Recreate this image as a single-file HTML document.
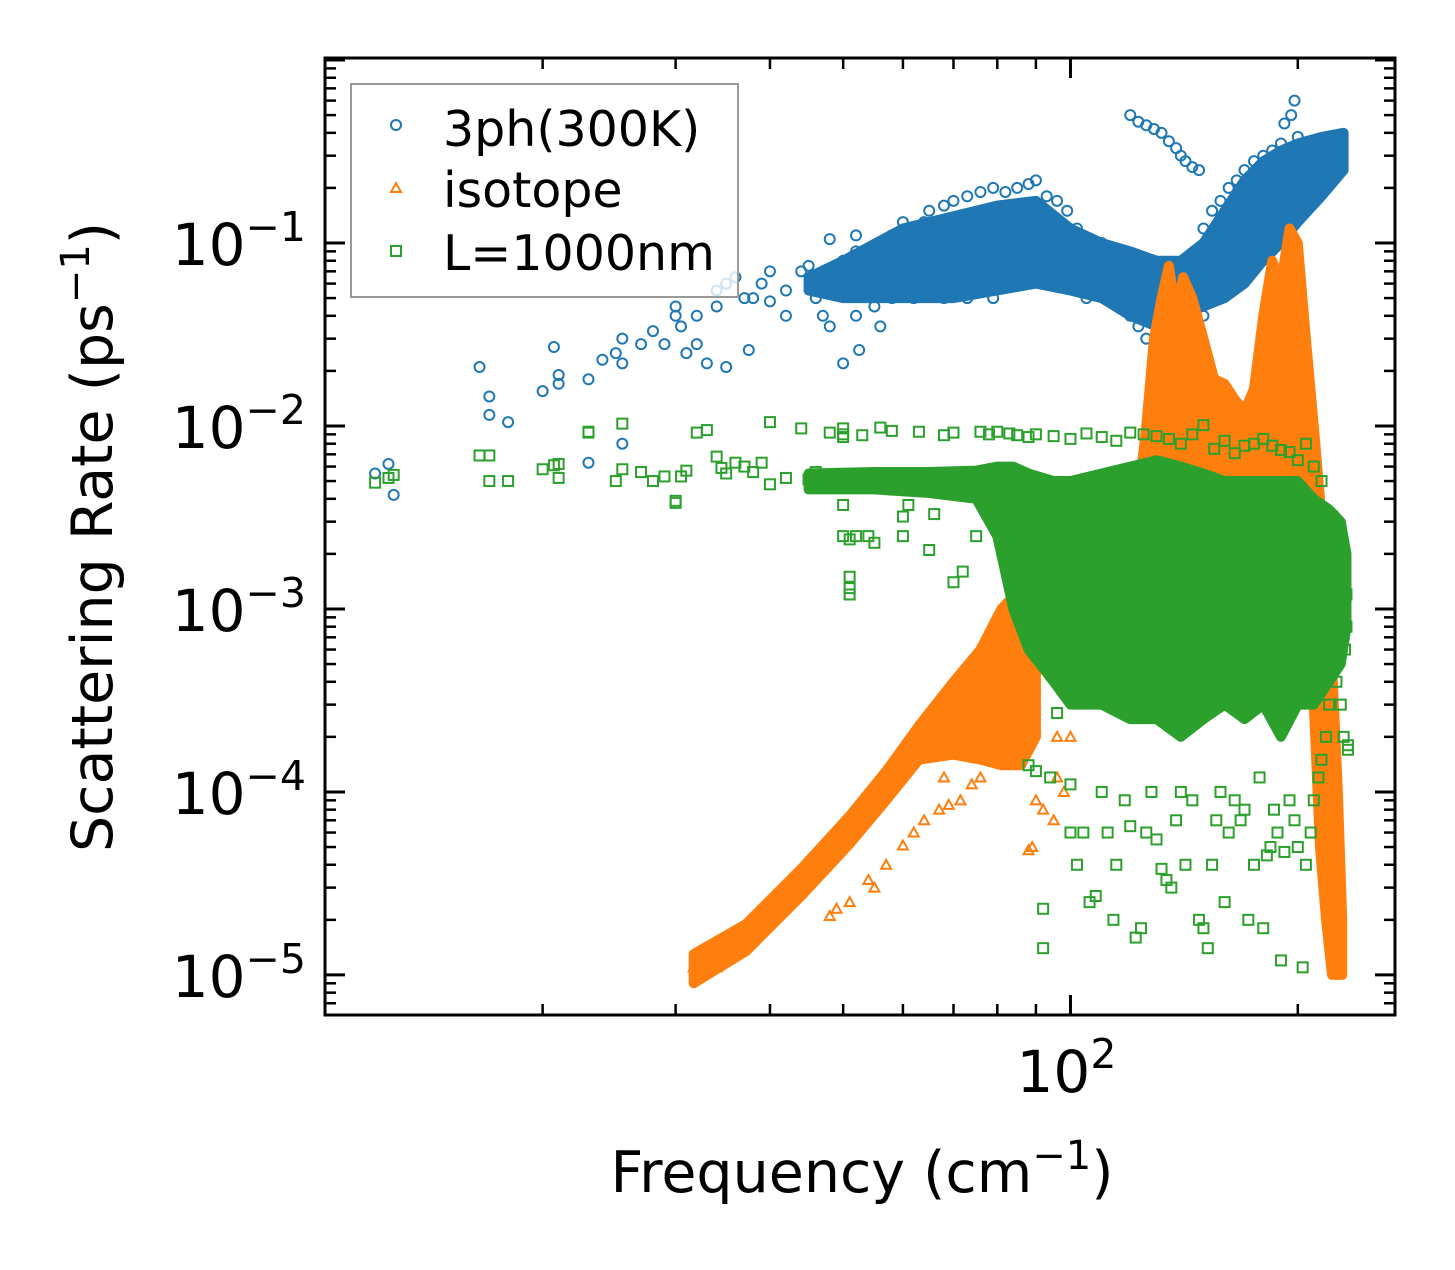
<!DOCTYPE html>
<html><head><meta charset="utf-8"><style>
html,body{margin:0;padding:0;background:#fff}
svg text{font-family:"DejaVu Sans","Liberation Sans",sans-serif;fill:#000}
</style></head><body>
<svg id="chart" width="1455" height="1265" viewBox="0 0 1455 1265" xmlns="http://www.w3.org/2000/svg">
<rect x="0" y="0" width="1455" height="1265" fill="#fff"/>
<g id="env"></g>
<g id="pts"></g>
<g id="axes"></g>
<g>
<rect x="351" y="84" width="387" height="213" fill="#fff" fill-opacity="0.8" stroke="#999" stroke-width="2"/>
<circle cx="396" cy="125" r="5" fill="none" stroke="#1f77b4" stroke-width="2"/>
<text x="443" y="146" font-size="49">3ph(300K)</text>
<polygon points="396,183 401,192 391,192" fill="none" stroke="#ff7f0e" stroke-width="2"/>
<text x="443" y="207" font-size="49">isotope</text>
<rect x="391" y="246" width="10" height="10" fill="none" stroke="#2ca02c" stroke-width="2"/>
<text x="443" y="270" font-size="49">L=1000nm</text>
</g>
<text x="862" y="1192" font-size="57" text-anchor="middle">Frequency (cm<tspan dy="-23" font-size="40">−1</tspan><tspan dy="23">)</tspan></text>
<text transform="translate(112,537) rotate(-90)" font-size="57" text-anchor="middle">Scattering Rate (ps<tspan dy="-23" font-size="40">−1</tspan><tspan dy="23">)</tspan></text>
</svg>
<script>
// axis config
const xMin=10.3, xMax=269, yMin=Math.pow(10,-5.219), yMax=Math.pow(10,0.011);
const L=325,R=1395,T=58,B=1015;
function X(f){return L+(Math.log10(f)-Math.log10(xMin))/(Math.log10(xMax)-Math.log10(xMin))*(R-L);}
function Y(r){return B-(Math.log10(r)-Math.log10(yMin))/(Math.log10(yMax)-Math.log10(yMin))*(B-T);}

const yTickExp=[-1,-2,-3,-4,-5];
const yTickLabels=["−1","−2","−3","−4","−5"];
const xTickVals=[100];
const xTickLabels=["2"];

// density envelopes (frequency, lower, upper)
const blueEnvF=[45,50,60,70,80,90,100,110,120,130,140,150,160,170,180,190,200,215,230];
const blueEnvLo=[0.055,0.05,0.05,0.05,0.055,0.06,0.055,0.05,0.04,0.035,0.04,0.045,0.05,0.06,0.08,0.1,0.13,0.18,0.25];
const blueEnvHi=[0.065,0.08,0.12,0.14,0.16,0.17,0.12,0.1,0.09,0.08,0.08,0.1,0.15,0.22,0.28,0.32,0.35,0.38,0.4];
const orangeEnvF=[122,126,129,132,135,138,141,145,150,155,160,165,170,175,180,185,190,195,200,205,210,214,218,222,226,229];
const orangeEnvLo=[0.003,0.002,0.002,0.002,0.002,0.002,0.002,0.003,0.003,0.003,0.003,0.003,0.003,0.003,0.003,0.003,0.003,0.003,0.003,0.002,0.0003,0.00005,0.00002,0.00001,0.00001,0.00001];
const orangeEnvHi=[0.003,0.01,0.03,0.05,0.075,0.04,0.065,0.05,0.03,0.018,0.017,0.014,0.012,0.016,0.04,0.08,0.06,0.12,0.1,0.03,0.01,0.004,0.0015,0.0005,0.0001,0.00002];
const orangeLowEnvF=[31.7,37.2,44,51,57,63,70,76,81,86,90];
const orangeLowEnvLo=[0.000009,0.0000135,0.000027,0.000052,0.00009,0.00015,0.00016,0.00015,0.00014,0.00014,0.0002];
const orangeLowEnvHi=[0.000013,0.000019,0.000038,0.000074,0.00013,0.00023,0.0004,0.0006,0.001,0.0013,0.0015];
const greenEnvF=[45,55,65,75,80,84,88,95,100,110,120,130,140,150,160,170,180,190,200,210,220,228,232];
const greenEnvLo=[0.0045,0.0045,0.0043,0.004,0.0025,0.001,0.0006,0.0004,0.0003,0.0003,0.00025,0.00025,0.0002,0.00025,0.0003,0.00025,0.0003,0.0002,0.0003,0.0003,0.0004,0.0005,0.0008];
const greenEnvHi=[0.0055,0.0056,0.0056,0.0057,0.006,0.006,0.0055,0.005,0.005,0.0055,0.006,0.0065,0.006,0.0055,0.005,0.005,0.005,0.005,0.005,0.004,0.0035,0.003,0.002];

// scatter points: flat [freq, rate, freq, rate, ...]
const bluePts=[12,0.0055,12.5,0.0062,12.7,0.0042,16.5,0.021,17,0.0145,17,0.0115,18,0.0105,20,0.0155,20.7,0.027,21,0.019,21,0.017,23,0.018,23,0.0063,24,0.023,25,0.025,25.5,0.03,25.5,0.022,25.5,0.008,27,0.028,28,0.033,29,0.028,30,0.04,30,0.045,30.5,0.035,31,0.025,32,0.04,32,0.028,33,0.022,34,0.055,34,0.045,35,0.021,35,0.06,36,0.065,37,0.05,37.5,0.026,38,0.05,39,0.06,40,0.07,40,0.048,42,0.055,42,0.04,44,0.07,45,0.075,46,0.05,47,0.04,48,0.105,48,0.035,50,0.06,50,0.08,50,0.022,52,0.11,52,0.09,52,0.04,52.5,0.026,54,0.08,55,0.045,56,0.035,57,0.09,58,0.11,60,0.11,62,0.12,64,0.13,66,0.1,70,0.12,
58,0.05,60,0.13,62,0.05,65,0.15,68,0.05,68,0.16,70,0.17,73,0.05,73,0.18,76,0.19,79,0.05,79,0.2,82,0.19,85,0.2,88,0.21,90,0.22,93,0.18,96,0.17,99,0.15,102,0.12,105,0.05,108,0.1,111,0.05,114,0.05,117,0.045,120,0.04,123,0.035,126,0.03,130,0.04,134,0.035,138,0.04,142,0.04,146,0.045,150,0.04,150,0.12,154,0.15,158,0.17,162,0.2,166,0.22,170,0.25,175,0.28,180,0.3,185,0.32,190,0.35,200,0.38,215,0.36,225,0.38,
120,0.5,123,0.46,126,0.44,129,0.42,132,0.4,135,0.36,138,0.33,140,0.3,142,0.28,145,0.26,148,0.25,198,0.6,196,0.5,192,0.45,165,0.09,170,0.1,175,0.12,110,0.1,112,0.095];
const orangePts=[31.7,0.000011,33,0.000012,34,0.000011,36,0.000016,39,0.000022,41,0.000028,48,0.000021,49,0.000023,51,0.000025,54,0.000033,55,0.00003,57,0.00004,60,0.000051,62,0.00006,64,0.00007,67,0.00008,69,0.000085,71.5,0.00009,68,0.00012,74,0.00011,76,0.00012,52,0.00008,55,0.0001,58,0.00014,61,0.00019,64,0.00025,67,0.0003,70,0.00038,73,0.00048,76,0.0006,79,0.00075,83,0.0009,86,0.00048,88,0.000048,89,0.00005,87,0.00032,90,0.00009,92,0.00008,95,0.00007,96,0.00012,98,0.0001,96,0.0002,100,0.0002,97,0.0004,100,0.0006,
120,0.004,124,0.006,128,0.0015,131,0.001,135,0.001,140,0.0012,145,0.0015,150,0.002,155,0.0015,165,0.002,175,0.002,185,0.002,195,0.002,205,0.001,110,0.0005,115,0.0008,110,0.005,105,0.004];
const greenPts=[12,0.0049,12.5,0.0052,12.7,0.0054,16.5,0.0069,17,0.0069,17,0.005,18,0.005,20,0.0058,20.7,0.0061,21,0.0062,21,0.0052,23,0.0092,23,0.0093,25,0.005,25.5,0.0058,25.5,0.0103,27,0.0056,28,0.005,29,0.0053,30,0.0038,30,0.0039,30.5,0.0053,31,0.0057,32,0.0092,33,0.0095,34,0.0068,34.5,0.0059,35,0.0055,36,0.0063,37,0.006,38,0.0056,39,0.0063,40,0.0105,40,0.0048,42,0.0052,44,0.0097,45,0.0051,46,0.0056,48,0.0092,50,0.0097,50,0.009,50,0.0087,50,0.0037,50,0.0025,51,0.0024,51,0.0015,51,0.0013,51,0.0012,52,0.0025,53,0.0089,54,0.0025,55,0.0023,56,0.0098,58,0.0094,60,0.0032,60,0.0025,61,0.0037,63,0.0093,65,0.0021,66,0.0033,68,0.0089,70,0.0092,70,0.0014,72,0.0016,75,0.0025,76,0.0093,78,0.009,80,0.0093,83,0.0091,85,0.0089,88,0.0087,90,0.009,95,0.0088,100,0.0085,105,0.0091,110,0.0087,115,0.0083,120,0.0092,125,0.009,130,0.0088,135,0.0085,140,0.008,145,0.009,150,0.0101,155,0.0075,160,0.0083,165,0.0071,170,0.0078,175,0.008,180,0.0085,185,0.0078,190,0.0074,195,0.0072,200,0.0065,205,0.008,210,0.006,215,0.005,222,0.0032,226,0.0025,230,0.0018,232,0.0012,232,0.0008,231,0.0006,233,0.00017,233,0.00018,
88,0.00014,90,0.00013,92,0.000023,92,0.000014,94,0.00012,96,0.00027,100,0.00011,100,0.00006,102,0.00004,104,0.00006,106,0.000025,108,0.000027,110,0.0001,112,0.00006,114,0.00002,115,0.00004,118,0.00009,120,0.000065,122,0.000016,124,0.000018,126,0.00006,128,0.0001,130,0.000055,132,0.000038,134,0.000033,136,0.00003,138,0.00007,140,0.0001,142,0.00004,145,0.00009,148,0.00002,150,0.000018,152,0.000014,154,0.00004,156,0.00007,158,0.0001,160,0.000025,162,0.00006,165,0.00009,168,0.00007,170,0.00008,172,0.00002,175,0.00004,178,0.00012,180,0.000018,182,0.000045,184,0.00005,186,0.00008,188,0.00006,190,0.000012,192,0.000047,195,0.00009,198,0.00007,200,0.00005,203,0.000011,205,0.00004,208,0.00006,210,0.00009,213,0.00012,215,0.00015,218,0.0002,220,0.0003,225,0.0004,228,0.0003,230,0.0002];

const svgNS="http://www.w3.org/2000/svg";
const env=document.getElementById('env');
const pts=document.getElementById('pts');
const axes=document.getElementById('axes');

function envPath(fs,lo,hi){
  let d="M"+X(fs[0])+","+Y(hi[0]);
  for(let i=1;i<fs.length;i++) d+=" L"+X(fs[i])+","+Y(hi[i]);
  for(let i=fs.length-1;i>=0;i--) d+=" L"+X(fs[i])+","+Y(lo[i]);
  return d+"Z";
}
function envelope(fs,lo,hi,color,name,parent){
  const p=document.createElementNS(svgNS,'path');
  p.setAttribute('d',envPath(fs,lo,hi));p.setAttribute('fill',color);p.setAttribute('stroke',color);p.setAttribute('stroke-width','10');p.setAttribute('stroke-linejoin','round');
  
  
  parent.appendChild(p);
}
function marker(kind,f,r,color,parent){
  const x=X(f),y=Y(r);let el;
  if(kind==='c'){el=document.createElementNS(svgNS,'circle');el.setAttribute('cx',x);el.setAttribute('cy',y);el.setAttribute('r',5);}
  else if(kind==='t'){el=document.createElementNS(svgNS,'polygon');el.setAttribute('points',x+","+(y-5)+" "+(x+5)+","+(y+4)+" "+(x-5)+","+(y+4));}
  else {el=document.createElementNS(svgNS,'rect');el.setAttribute('x',x-5);el.setAttribute('y',y-5);el.setAttribute('width',10);el.setAttribute('height',10);}
  el.setAttribute('fill','none');el.setAttribute('stroke',color);el.setAttribute('stroke-width','2');
  
  
  parent.appendChild(el);
}
function series(arr,kind,color,name){
  const g=document.createElementNS(svgNS,'g');
  
  
  for(let i=0;i<arr.length;i+=2) marker(kind,arr[i],arr[i+1],color,g);
  pts.appendChild(g);
}
envelope(blueEnvF,blueEnvLo,blueEnvHi,'#1f77b4','envelope-3ph',pts);
series(bluePts,'c','#1f77b4','series-3ph');
envelope(orangeEnvF,orangeEnvLo,orangeEnvHi,'#ff7f0e','envelope-isotope-high',pts);
envelope(orangeLowEnvF,orangeLowEnvLo,orangeLowEnvHi,'#ff7f0e','envelope-isotope-low',pts);
series(orangePts,'t','#ff7f0e','series-isotope');
envelope(greenEnvF,greenEnvLo,greenEnvHi,'#2ca02c','envelope-boundary',pts);
series(greenPts,'s','#2ca02c','series-boundary');

function line(x1,y1,x2,y2,w,name){
  const l=document.createElementNS(svgNS,'line');
  l.setAttribute('x1',x1);l.setAttribute('y1',y1);l.setAttribute('x2',x2);l.setAttribute('y2',y2);
  l.setAttribute('stroke','#000');l.setAttribute('stroke-width',w);
  
  
  axes.appendChild(l);
}
const fr=document.createElementNS(svgNS,'rect');
fr.setAttribute('x',L);fr.setAttribute('y',T);fr.setAttribute('width',R-L);fr.setAttribute('height',B-T);
fr.setAttribute('fill','none');fr.setAttribute('stroke','#000');fr.setAttribute('stroke-width','3');


axes.appendChild(fr);
for(let e=-6;e<=0;e++){
  for(let m=1;m<10;m++){
    const v=m*Math.pow(10,e);
    if(v<yMin||v>yMax) continue;
    const y=Y(v), len=(m===1)?20:11, w=(m===1)?3:2.5;
    line(L,y,L+len,y,w,'y-tick');
    line(R,y,R-len,y,w,'y-tick-right');
  }
}
yTickExp.forEach((e,i)=>{
  const t=document.createElementNS(svgNS,'text');
  t.setAttribute('x',306);t.setAttribute('y',Y(Math.pow(10,e))+22);t.setAttribute('font-size','58');t.setAttribute('text-anchor','end');
  
  
  t.innerHTML='10<tspan dy="-24" font-size="41">'+yTickLabels[i]+'</tspan>';
  document.getElementById('chart').appendChild(t);
});
for(let e=1;e<=2;e++){
  for(let m=1;m<10;m++){
    const v=m*Math.pow(10,e);
    if(v<xMin||v>xMax) continue;
    const x=X(v), len=(m===1)?20:11, w=(m===1)?3:2.5;
    line(x,B,x,B-len,w,'x-tick');
    line(x,T,x,T+len,w,'x-tick-top');
  }
}
xTickVals.forEach((v,i)=>{
  const t=document.createElementNS(svgNS,'text');
  t.setAttribute('x',X(v)-4);t.setAttribute('y',1092);t.setAttribute('font-size','58');t.setAttribute('text-anchor','middle');
  
  
  t.innerHTML='10<tspan dy="-24" font-size="41">'+xTickLabels[i]+'</tspan>';
  document.getElementById('chart').appendChild(t);
});
</script>
</body></html>
